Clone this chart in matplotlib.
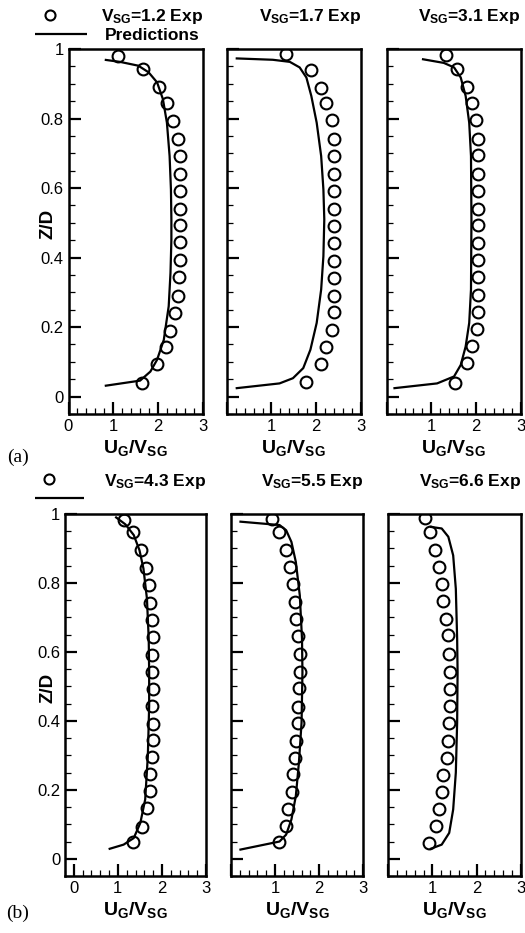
import matplotlib
matplotlib.use('Agg')
import matplotlib.pyplot as plt
from matplotlib.ticker import MultipleLocator, FixedLocator, FixedFormatter
from matplotlib.legend_handler import HandlerLine2DCompound

plt.rcParams['font.family'] = ['Liberation Sans', 'DejaVu Sans']
plt.rcParams['mathtext.fontset'] = 'custom'
plt.rcParams['mathtext.rm'] = 'Liberation Sans'
plt.rcParams['mathtext.bf'] = 'Liberation Sans:bold'
plt.rcParams['mathtext.it'] = 'Liberation Sans:italic'

# ---------------- data ----------------
vsg_values = ['1.2', '1.7', '3.1', '4.3', '5.5', '6.6']
panel_tags = ['(a)', '(b)']
x_tick_values = [0, 1, 2, 3]
y_tick_values = [0, 0.2, 0.4, 0.6, 0.8, 1.0]
y_tick_labels = ['0', '0.2', '0.4', '0.6', '0.8', '1']

exp_z_1 = [0.04, 0.094, 0.142, 0.188, 0.24, 0.29, 0.343, 0.394, 0.444, 0.493, 0.54, 0.591, 0.641, 0.692, 0.742, 0.793, 0.844, 0.892, 0.942, 0.98]
exp_u_1 = [1.64, 1.98, 2.17, 2.28, 2.37, 2.45, 2.47, 2.49, 2.49, 2.49, 2.49, 2.50, 2.50, 2.49, 2.45, 2.33, 2.20, 2.03, 1.66, 1.11]
pred_z_1 = [0.031, 0.046, 0.072, 0.106, 0.163, 0.26, 0.356, 0.452, 0.51, 0.596, 0.692, 0.788, 0.856, 0.904, 0.933, 0.952, 0.963, 0.969]
pred_u_1 = [0.81, 1.60, 1.83, 1.98, 2.13, 2.24, 2.28, 2.30, 2.30, 2.29, 2.26, 2.20, 2.11, 1.98, 1.79, 1.56, 1.15, 0.81]

exp_z_2 = [0.043, 0.094, 0.142, 0.192, 0.242, 0.290, 0.341, 0.391, 0.442, 0.490, 0.541, 0.591, 0.641, 0.692, 0.742, 0.796, 0.844, 0.889, 0.940, 0.986]
exp_u_2 = [1.78, 2.10, 2.22, 2.35, 2.39, 2.39, 2.39, 2.39, 2.39, 2.39, 2.39, 2.40, 2.40, 2.40, 2.40, 2.35, 2.22, 2.10, 1.89, 1.33]
pred_z_2 = [0.024, 0.038, 0.053, 0.082, 0.135, 0.212, 0.308, 0.404, 0.51, 0.596, 0.692, 0.788, 0.865, 0.918, 0.947, 0.963, 0.969, 0.973]
pred_u_2 = [0.20, 1.18, 1.48, 1.71, 1.87, 2.01, 2.11, 2.16, 2.18, 2.16, 2.11, 2.01, 1.89, 1.78, 1.63, 1.41, 1.03, 0.20]

exp_z_3 = [0.038, 0.096, 0.146, 0.194, 0.243, 0.291, 0.343, 0.392, 0.442, 0.493, 0.541, 0.591, 0.641, 0.694, 0.742, 0.795, 0.844, 0.892, 0.942, 0.983]
exp_u_3 = [1.53, 1.81, 1.92, 2.02, 2.04, 2.04, 2.04, 2.04, 2.04, 2.04, 2.04, 2.04, 2.04, 2.04, 2.05, 2.00, 1.92, 1.81, 1.58, 1.32]
pred_z_3 = [0.024, 0.038, 0.058, 0.091, 0.144, 0.212, 0.308, 0.51, 0.692, 0.788, 0.865, 0.918, 0.947, 0.96, 0.971]
pred_u_3 = [0.15, 1.13, 1.51, 1.66, 1.77, 1.85, 1.89, 1.90, 1.89, 1.85, 1.77, 1.66, 1.51, 1.28, 0.79]

exp_z_4 = [0.048, 0.092, 0.148, 0.196, 0.245, 0.295, 0.345, 0.392, 0.442, 0.492, 0.543, 0.592, 0.643, 0.693, 0.743, 0.793, 0.844, 0.897, 0.947, 0.983]
exp_u_4 = [1.34, 1.55, 1.66, 1.73, 1.73, 1.77, 1.79, 1.79, 1.77, 1.79, 1.77, 1.77, 1.79, 1.77, 1.73, 1.70, 1.64, 1.52, 1.34, 1.14]
pred_z_4 = [0.028, 0.041, 0.060, 0.104, 0.172, 0.298, 0.444, 0.541, 0.638, 0.754, 0.842, 0.895, 0.939, 0.970, 0.992]
pred_u_4 = [0.79, 1.13, 1.36, 1.51, 1.62, 1.68, 1.71, 1.71, 1.70, 1.66, 1.58, 1.49, 1.36, 1.17, 0.94]

exp_z_5 = [0.049, 0.094, 0.143, 0.194, 0.245, 0.293, 0.342, 0.395, 0.439, 0.494, 0.543, 0.594, 0.645, 0.696, 0.745, 0.796, 0.847, 0.897, 0.947, 0.985]
exp_u_5 = [1.09, 1.25, 1.29, 1.39, 1.41, 1.44, 1.47, 1.52, 1.52, 1.54, 1.56, 1.56, 1.52, 1.48, 1.44, 1.41, 1.33, 1.25, 1.09, 0.935]
pred_z_5 = [0.026, 0.050, 0.070, 0.114, 0.182, 0.279, 0.395, 0.541, 0.638, 0.764, 0.861, 0.919, 0.953, 0.968, 0.978]
pred_u_5 = [0.19, 1.10, 1.25, 1.37, 1.47, 1.54, 1.60, 1.62, 1.61, 1.56, 1.47, 1.37, 1.25, 1.10, 0.19]

exp_z_6 = [0.046, 0.094, 0.143, 0.193, 0.243, 0.293, 0.342, 0.395, 0.444, 0.492, 0.543, 0.594, 0.648, 0.694, 0.747, 0.798, 0.847, 0.895, 0.947, 0.987]
exp_u_6 = [0.93, 1.08, 1.15, 1.21, 1.25, 1.34, 1.36, 1.38, 1.40, 1.40, 1.40, 1.38, 1.36, 1.31, 1.25, 1.21, 1.15, 1.06, 0.94, 0.83]
pred_z_6 = [0.028, 0.041, 0.075, 0.143, 0.250, 0.395, 0.541, 0.638, 0.783, 0.880, 0.934, 0.958, 0.963]
pred_u_6 = [0.94, 1.21, 1.38, 1.47, 1.53, 1.56, 1.57, 1.56, 1.53, 1.47, 1.36, 1.21, 0.94]

exp_z = [exp_z_1, exp_z_2, exp_z_3, exp_z_4, exp_z_5, exp_z_6]
exp_u = [exp_u_1, exp_u_2, exp_u_3, exp_u_4, exp_u_5, exp_u_6]
pred_z = [pred_z_1, pred_z_2, pred_z_3, pred_z_4, pred_z_5, pred_z_6]
pred_u = [pred_u_1, pred_u_2, pred_u_3, pred_u_4, pred_u_5, pred_u_6]


class LeftMarkerHandler(HandlerLine2DCompound):
    """Legend marker drawn left of the handle centre."""
    def get_xdata(self, legend, xdescent, ydescent, width, height, fontsize):
        xdata, _ = super().get_xdata(legend, xdescent, ydescent, width, height, fontsize)
        return xdata, [-xdescent + width * 0.28]


# ---------------- layout ----------------
W, H = 525, 933
fig = plt.figure(figsize=(W / 100, H / 100), dpi=100)

# pixel boxes: left, top, right, bottom
boxes = [(68.5, 49, 202.7, 414), (226.7, 49, 361, 414), (386.7, 49, 520.5, 414),
         (65, 514, 206, 876), (231, 514, 363.3, 876), (388.3, 514, 520.7, 876)]
xlims = [(0, 3), (0, 3), (0, 3), (-0.2, 3), (0, 3), (0, 3)]

title_fs = 12.5
for i in range(6):
    l, t, r, b = boxes[i]
    ax = fig.add_axes([l / W, 1 - b / H, (r - l) / W, (b - t) / H])
    ax.plot(pred_u[i], pred_z[i], color='black', lw=1.6, solid_capstyle='butt')
    ax.plot(exp_u[i], exp_z[i], linestyle='none', marker='o', ms=8.5, mfc='none',
            mec='black', mew=1.5)
    ax.set_xlim(*xlims[i])
    ax.set_ylim(-0.05, 1.0)
    for s in ax.spines.values():
        s.set_linewidth(1.8)
    ax.xaxis.set_major_locator(FixedLocator(x_tick_values))
    ax.xaxis.set_minor_locator(MultipleLocator(0.2))
    ax.yaxis.set_major_locator(FixedLocator(y_tick_values))
    ax.yaxis.set_minor_locator(MultipleLocator(0.05))
    ax.tick_params(which='both', direction='in', top=False, right=False,
                   labelsize=12)
    ax.tick_params(which='major', length=8.5, width=1.6, pad=3.5)
    ax.tick_params(which='minor', length=4.5, width=0.9)
    first = (i % 3 == 0)
    if first:
        ax.yaxis.set_major_formatter(FixedFormatter(y_tick_labels))
        ax.xaxis.set_major_formatter(FixedFormatter([str(v) for v in x_tick_values]))
        ax.set_ylabel('Z/D', fontsize=13.5, fontweight='bold', va='center')
        ax.yaxis.set_label_coords(-(l - 48) / (r - l), 0.52)
    else:
        ax.tick_params(labelleft=False)
        ax.xaxis.set_major_formatter(FixedFormatter([''] + [str(v) for v in x_tick_values[1:]]))
    ax.set_xlabel(r'$\mathbf{U_{G}/V_{SG}}$', fontsize=14, va='center')
    ax.xaxis.set_label_coords(0.5, -34 / (b - t))
    # title (right aligned with axes)
    ax.text(1.0, 1 + 33 / (b - t), r'$\mathbf{V_{SG}}$=' + vsg_values[i] + ' Exp',
            transform=ax.transAxes, ha='right', va='center',
            fontsize=title_fs, fontweight='bold')
    if first:
        lines = ax.get_lines()
        if i == 0:
            labels = [' ', 'Predictions']
            top_px = 8.5
            hl = 3.0
        else:
            labels = [' ', ' ']
            top_px = 473.0
            hl = 2.8
        ax.legend(handles=[lines[1], lines[0]], labels=labels, loc='upper left',
                  bbox_to_anchor=(35 / W, 1 - top_px / H), bbox_transform=fig.transFigure,
                  frameon=False, borderpad=0, borderaxespad=0, handlelength=hl,
                  handletextpad=1.05, labelspacing=0.22, markerscale=0.85,
                  handler_map={lines[1]: LeftMarkerHandler(numpoints=1)},
                  prop={'weight': 'bold', 'size': 12.5})

fig.text(18 / W, 1 - 457 / H, panel_tags[0], family='Liberation Serif', fontsize=14,
         ha='center', va='center')
fig.text(18 / W, 1 - 913 / H, panel_tags[1], family='Liberation Serif', fontsize=14,
         ha='center', va='center')

fig.savefig('out.png', dpi=100)
